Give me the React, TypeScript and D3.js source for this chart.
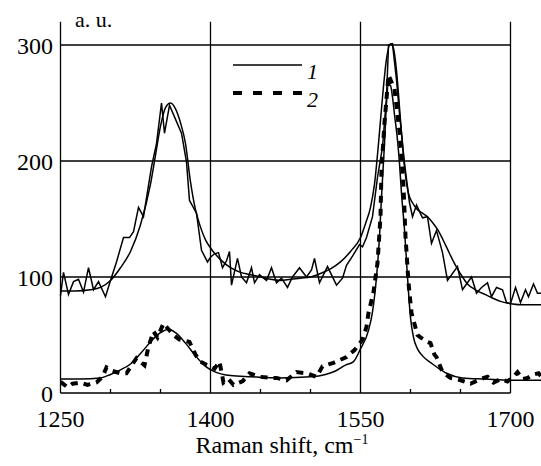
import React, { useEffect, useRef } from "react";
import * as d3 from "d3";

// axis ticks
const xTicks = [1250, 1400, 1550, 1700];
const xMinorTicks = [1300, 1350, 1450, 1500, 1600, 1650];
const yTicks = [0, 100, 200, 300];
const legendLabels = ["1", "2"];

// spectrum 1 (upper, shifted): measured, [shift cm-1, intensity]
const spectrum1Raw: [number, number][] = [
  [1250, 84], [1253, 104], [1258, 85], [1263, 96], [1268, 98], [1273, 87], [1278, 108],
  [1283, 89], [1288, 96], [1295, 83], [1300, 97], [1306, 113], [1313, 134], [1319, 134],
  [1323, 139], [1328, 160], [1333, 152], [1341, 195], [1346, 215], [1351, 250], [1354, 224],
  [1359, 248], [1364, 238], [1371, 224], [1376, 199], [1379, 166], [1386, 155], [1391, 123],
  [1397, 113], [1400, 117], [1404, 120], [1408, 121], [1412, 108], [1416, 114], [1419, 122],
  [1421, 93], [1427, 116], [1431, 100], [1436, 95], [1441, 108], [1444, 95], [1449, 102],
  [1456, 97], [1461, 108], [1466, 95], [1471, 99], [1477, 91], [1482, 100], [1489, 108],
  [1496, 100], [1501, 106], [1504, 116], [1509, 95], [1517, 109], [1526, 93], [1532, 99],
  [1536, 110], [1542, 118], [1549, 128], [1552, 126], [1556, 134], [1562, 152], [1567, 186],
  [1572, 212], [1576, 255], [1578, 300], [1582, 301], [1586, 270], [1589, 241], [1594, 198],
  [1599, 164], [1602, 152], [1606, 162], [1612, 151], [1617, 152], [1621, 129], [1626, 140],
  [1632, 121], [1637, 97], [1647, 109], [1652, 89], [1661, 100], [1666, 86], [1671, 91],
  [1677, 95], [1681, 83], [1686, 91], [1692, 89], [1696, 78], [1700, 77], [1705, 91],
  [1710, 78], [1715, 89], [1718, 83], [1723, 94], [1727, 86], [1731, 86],
];

// spectrum 1: fitted
const spectrum1Fit: [number, number][] = [
  [1250, 88], [1265, 88], [1280, 89], [1290, 91], [1300, 97], [1310, 108], [1320, 122],
  [1330, 145], [1340, 180], [1345, 205], [1350, 230], [1355, 246], [1360, 250], [1365, 245],
  [1370, 233], [1375, 215], [1380, 182], [1385, 158], [1390, 143], [1395, 132], [1400, 125],
  [1410, 115], [1420, 108], [1430, 104], [1440, 102], [1450, 100], [1460, 98], [1470, 97],
  [1480, 98], [1490, 99], [1500, 100], [1510, 103], [1520, 107], [1530, 113], [1540, 122],
  [1550, 134], [1555, 146], [1560, 160], [1564, 180], [1568, 215], [1572, 255], [1576, 288],
  [1580, 301], [1583, 297], [1586, 278], [1590, 235], [1594, 195], [1598, 172], [1602, 164],
  [1607, 158], [1612, 155], [1617, 152], [1622, 147], [1627, 141], [1632, 133], [1637, 124],
  [1642, 115], [1647, 107], [1652, 100], [1657, 94], [1665, 89], [1677, 84], [1690, 79],
  [1700, 77], [1715, 76], [1731, 76],
];

// spectrum 2 (lower): measured
const spectrum2Raw: [number, number][] = [
  [1250, 9], [1251, 9], [1257, 5], [1262, 8], [1270, 9], [1277, 7], [1286, 9], [1292, 14],
  [1296, 22], [1302, 19], [1310, 17], [1316, 17], [1322, 25], [1326, 30], [1334, 24],
  [1338, 40], [1343, 53], [1347, 48], [1353, 60], [1358, 55], [1363, 50], [1369, 46],
  [1379, 44], [1385, 33], [1390, 27], [1399, 23], [1404, 21], [1409, 27], [1413, 9],
  [1418, 12], [1423, 7], [1432, 10], [1439, 17], [1449, 14], [1460, 13], [1466, 13],
  [1476, 11], [1486, 18], [1496, 17], [1506, 14], [1512, 23], [1523, 26], [1536, 31],
  [1544, 37], [1552, 46], [1556, 57], [1558, 69], [1563, 87], [1567, 112], [1570, 152],
  [1571, 193], [1574, 233], [1578, 274], [1584, 262], [1589, 225], [1593, 178], [1595, 135],
  [1598, 95], [1601, 69], [1607, 50], [1610, 48], [1617, 44], [1620, 43], [1624, 33],
  [1626, 31], [1632, 18], [1640, 13], [1650, 11], [1660, 8], [1670, 12], [1677, 14],
  [1683, 9], [1690, 12], [1697, 10], [1703, 14], [1707, 18], [1712, 12], [1717, 13],
  [1723, 16], [1728, 17], [1731, 14],
];

// spectrum 2: fitted
const spectrum2Fit: [number, number][] = [
  [1250, 12], [1270, 12], [1290, 13], [1300, 16], [1310, 20], [1320, 25], [1330, 34],
  [1340, 44], [1350, 52], [1358, 55], [1365, 52], [1375, 43], [1385, 32], [1395, 23],
  [1405, 18], [1420, 15], [1440, 14], [1470, 13], [1500, 14], [1515, 16], [1525, 19],
  [1535, 24], [1543, 27], [1550, 38], [1558, 54], [1562, 70], [1566, 100], [1569, 135],
  [1571, 169], [1574, 215], [1576, 250], [1578, 266], [1580, 265], [1582, 255], [1584, 240],
  [1587, 218], [1589, 198], [1591, 172], [1594, 141], [1597, 100], [1600, 65], [1603, 48],
  [1607, 38], [1612, 32], [1622, 25], [1636, 17], [1652, 13], [1675, 12], [1700, 11],
  [1731, 11],
];

const FONT = "'Liberation Serif', 'DejaVu Serif', serif";

export default function App() {
  const svgRef = useRef<SVGSVGElement>(null);

  useEffect(() => {
    const svg = d3.select(svgRef.current);
    svg.selectAll("*").remove();

    const x = d3.scaleLinear().domain([1250, 1700]).range([60.5, 510.5]);
    const y = d3.scaleLinear().domain([0, 320]).range([393, 21.8]);
    const [x0, x1] = x.range();
    const yTop = y(320);
    const yBottom = y(0);

    // grid
    const grid = svg.append("g").attr("stroke", "#000").attr("stroke-width", 1.3);
    grid.selectAll("line.h")
      .data(yTicks.filter((d) => d > 0))
      .enter()
      .append("line")
      .attr("x1", x0).attr("x2", x1)
      .attr("y1", (d) => y(d)).attr("y2", (d) => y(d));
    grid.selectAll("line.v")
      .data(xTicks)
      .enter()
      .append("line")
      .attr("x1", (d) => x(d)).attr("x2", (d) => x(d))
      .attr("y1", yTop).attr("y2", yBottom);

    // x axis line + inner minor ticks
    grid.append("line").attr("x1", x0).attr("x2", x1).attr("y1", yBottom).attr("y2", yBottom);
    grid.selectAll("line.m")
      .data(xMinorTicks)
      .enter()
      .append("line")
      .attr("x1", (d) => x(d)).attr("x2", (d) => x(d))
      .attr("y1", yBottom).attr("y2", yBottom - 4);

    // tick labels
    svg.append("g")
      .selectAll("text")
      .data(xTicks)
      .enter()
      .append("text")
      .attr("x", (d) => x(d))
      .attr("y", 427)
      .attr("text-anchor", "middle")
      .style("font-family", FONT)
      .style("font-size", "24px")
      .text((d) => d);
    svg.append("g")
      .selectAll("text")
      .data(yTicks)
      .enter()
      .append("text")
      .attr("x", 53)
      .attr("y", (d) => y(d) + 9)
      .attr("text-anchor", "end")
      .style("font-family", FONT)
      .style("font-size", "24px")
      .text((d) => d);

    // curves
    const raw = d3.line<[number, number]>().x((d) => x(d[0])).y((d) => y(d[1]));
    const fit = d3.line<[number, number]>().x((d) => x(d[0])).y((d) => y(d[1])).curve(d3.curveMonotoneX);

    const curves = svg.append("g").attr("fill", "none").attr("stroke", "#000");
    curves.append("path").attr("d", fit(spectrum1Fit)).attr("stroke-width", 1.5);
    curves.append("path").attr("d", raw(spectrum1Raw)).attr("stroke-width", 1.5);
    curves.append("path").attr("d", fit(spectrum2Fit)).attr("stroke-width", 1.5);
    curves.append("path").attr("d", raw(spectrum2Raw))
      .attr("stroke-width", 4)
      .attr("stroke-dasharray", "7 6");

    // legend
    const legend = svg.append("g");
    const styles = [{ w: 1.5, dash: null }, { w: 4, dash: "9 11" }];
    legendLabels.forEach((lab, i) => {
      const ly = 65 + i * 28;
      legend.append("line")
        .attr("x1", 233).attr("x2", 302)
        .attr("y1", ly).attr("y2", ly)
        .attr("stroke", "#000")
        .attr("stroke-width", styles[i].w)
        .attr("stroke-dasharray", styles[i].dash);
      legend.append("text")
        .attr("x", 307)
        .attr("y", ly + 14)
        .style("font-family", FONT)
        .style("font-style", "italic")
        .style("font-size", "22px")
        .text(lab);
    });

    // axis titles
    svg.append("text")
      .attr("x", 75)
      .attr("y", 27)
      .style("font-family", FONT)
      .style("font-size", "22px")
      .text("a. u.");
    const xt = svg.append("text")
      .attr("x", 282)
      .attr("y", 453)
      .attr("text-anchor", "middle")
      .style("font-family", FONT)
      .style("font-size", "24px");
    xt.append("tspan").text("Raman shift, cm");
    xt.append("tspan").attr("dy", -9).style("font-size", "14px").text("\u22121");
  }, []);

  return (
    <svg
      ref={svgRef}
      width={541}
      height={466}
      style={{ position: "absolute", left: 0, top: 0, background: "#fff" }}
    />
  );
}
